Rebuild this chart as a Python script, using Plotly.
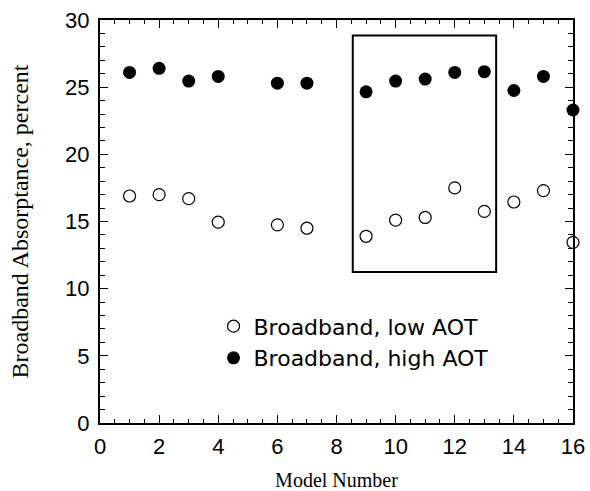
import plotly.graph_objects as go

# Model numbers and broadband absorptance (percent)
models = [1, 2, 3, 4, 6, 7, 9, 10, 11, 12, 13, 14, 15, 16]
low_aot = [16.9, 17.0, 16.7, 14.95, 14.75, 14.5, 13.9, 15.1, 15.3, 17.5, 15.75, 16.45, 17.3, 13.45]
high_aot = [26.1, 26.4, 25.45, 25.8, 25.3, 25.3, 24.65, 25.45, 25.6, 26.1, 26.15, 24.75, 25.8, 23.3]

# Highlighted group of models
box_x = [8.55, 13.4]
box_y = [11.25, 28.85]

fig = go.Figure()
fig.add_trace(go.Scatter(
    x=models, y=low_aot, mode="markers", name="Broadband, low AOT",
    marker=dict(symbol="circle-open", size=12, color="black", line=dict(width=1.2)),
    cliponaxis=False,
))
fig.add_trace(go.Scatter(
    x=models, y=high_aot, mode="markers", name="Broadband, high AOT",
    marker=dict(symbol="circle", size=13, color="black"),
    cliponaxis=False,
))

fig.add_shape(type="rect", x0=box_x[0], x1=box_x[1], y0=box_y[0], y1=box_y[1],
              xref="x", yref="y", line=dict(color="black", width=2))

axis_common = dict(
    showline=True, linecolor="black", linewidth=2, mirror="ticks",
    ticks="inside", tickcolor="black", tickwidth=1.3, ticklen=8,
    showgrid=False, zeroline=False, automargin=False,
    tickfont=dict(family="Liberation Sans, Arial", size=22, color="black"),
)

fig.update_xaxes(
    range=[0, 16], dtick=2, tick0=0, ticklabelstandoff=3,
    minor=dict(dtick=0.5, ticks="inside", ticklen=4, tickcolor="black", tickwidth=1.2),
    title=dict(text="Model Number", font=dict(family="Liberation Serif, Times New Roman", size=20, color="black"), standoff=16),
    **axis_common,
)
fig.update_yaxes(
    range=[0, 30], dtick=5, tick0=0, ticklabelstandoff=4,
    minor=dict(dtick=1, ticks="inside", ticklen=5, tickcolor="black", tickwidth=1.2),
    title=dict(text="Broadband Absorptance, percent", font=dict(family="Liberation Serif, Times New Roman", size=24, color="black"), standoff=30),
    **axis_common,
)

fig.update_layout(
    width=590, height=491,
    margin=dict(l=100, r=17, t=20, b=68),
    paper_bgcolor="white", plot_bgcolor="white",
    showlegend=True,
    legend=dict(
        x=0.24, y=0.2, xanchor="left", yanchor="middle",
        bgcolor="rgba(0,0,0,0)",
        font=dict(family="DejaVu Sans", size=22, color="black"),
        itemsizing="trace",
    ),
)

fig.write_html("out.html")
